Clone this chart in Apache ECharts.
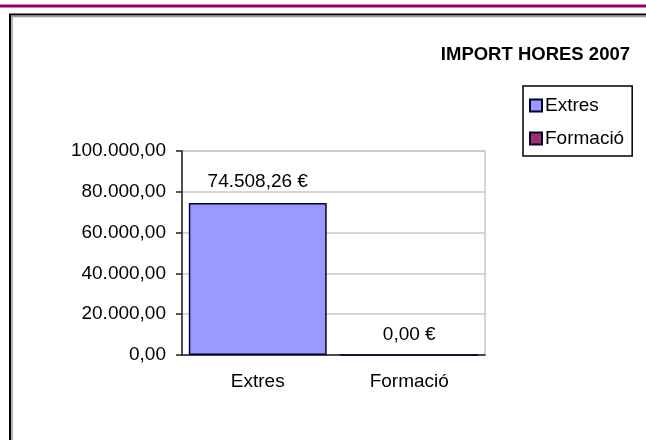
<!DOCTYPE html>
<html>
<head>
<meta charset="utf-8">
<script src="https://cdn.jsdelivr.net/npm/echarts@6/dist/echarts.min.js"></script>
<style>
  html, body { margin: 0; padding: 0; background: #fff; }
  #chart { width: 646px; height: 440px; }
</style>
</head>
<body>
<div id="chart"></div>
<script>
// dades del gràfic
var categories = ["Extres", "Formació"];
var extresValues = [74508.26, "-"];
var formacioValues = ["-", 0];
var yTicks = [0, 20000, 40000, 60000, 80000, 100000];

var FONT = "'Liberation Sans', Arial, sans-serif";

// 74508.26 -> "74.508,26"
function fmt(v) {
  var parts = Number(v).toFixed(2).split(".");
  return parts[0].replace(/\B(?=(\d{3})+(?!\d))/g, ".") + "," + parts[1];
}

var chart = echarts.init(document.getElementById("chart"));

chart.setOption({
  animation: false,
  backgroundColor: "#fff",
  textStyle: { fontFamily: FONT },
  title: {
    text: "IMPORT HORES 2007",
    right: 16,
    top: 45,
    padding: 0,
    textStyle: { fontFamily: FONT, fontSize: 18.5, fontWeight: "bold", color: "#000" }
  },
  legend: {
    orient: "vertical",
    left: 523,
    top: 86,
    padding: [10, 8, 8, 6],
    itemGap: 14,
    itemWidth: 12,
    itemHeight: 12,
    borderColor: "#000",
    borderWidth: 1.5,
    icon: "rect",
    textStyle: { fontFamily: FONT, fontSize: 19, color: "#000", padding: [0, 0, 0, -2] },
    data: categories
  },
  grid: {
    left: 182,
    right: 161,
    top: 151,
    bottom: 85,
    show: true,
    borderColor: "#c8c8c8",
    borderWidth: 1.5
  },
  xAxis: {
    type: "category",
    data: categories,
    axisLine: { lineStyle: { color: "#222", width: 1.5 } },
    axisTick: { length: 7, lineStyle: { color: "#222", width: 1.5 } },
    axisLabel: { margin: 17, fontSize: 19, color: "#000", fontFamily: FONT }
  },
  yAxis: {
    type: "value",
    min: yTicks[0],
    max: yTicks[yTicks.length - 1],
    interval: yTicks[1] - yTicks[0],
    axisLine: { show: true, lineStyle: { color: "#222", width: 1.5 } },
    axisTick: { show: true, length: 6, lineStyle: { color: "#222", width: 1.5 } },
    splitLine: { lineStyle: { color: "#c8c8c8", width: 1.5 } },
    axisLabel: {
      margin: 16,
      fontSize: 19,
      color: "#000",
      fontFamily: FONT,
      formatter: function (v) { return fmt(v); }
    }
  },
  series: [
    {
      name: "Extres",
      type: "bar",
      stack: "total",
      barCategoryGap: "9%",
      data: extresValues,
      itemStyle: { color: "#9999ff", borderColor: "#000033", borderWidth: 1.5 },
      label: {
        show: true,
        position: "top",
        distance: 12,
        fontSize: 19,
        color: "#000",
        fontFamily: FONT,
        formatter: function (p) { return fmt(p.value) + " €"; }
      }
    },
    {
      name: "Formació",
      type: "bar",
      stack: "total",
      barCategoryGap: "9%",
      data: formacioValues,
      itemStyle: { color: "#993366", borderColor: "#000033", borderWidth: 1.5 },
      label: {
        show: true,
        position: "top",
        distance: 10,
        fontSize: 19,
        color: "#000",
        fontFamily: FONT,
        formatter: function (p) { return fmt(p.value) + " €"; }
      }
    }
  ],
  graphic: [
    // línia de color a dalt
    { type: "rect", shape: { x: 0, y: 4.5, width: 646, height: 3 }, style: { fill: "#990066" }, silent: true },
    // marc del gràfic
    { type: "polyline", shape: { points: [[10, 445], [10, 14.5], [650, 14.5]] }, style: { stroke: "#000", lineWidth: 2, fill: null }, silent: true },
    { type: "polyline", shape: { points: [[12, 445], [12, 16.5], [650, 16.5]] }, style: { stroke: "#999", lineWidth: 1.5, fill: null }, silent: true }
  ]
});
</script>
</body>
</html>
